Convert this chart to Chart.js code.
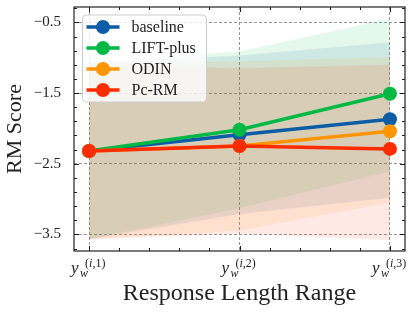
<!DOCTYPE html>
<html>
<head>
<meta charset="UTF-8">
<title>RM Score vs Response Length Range</title>
<script src="https://cdn.jsdelivr.net/npm/chart.js"></script>
<style>
  body { margin: 0; background: #fff; }
  canvas { display: block; }
</style>
</head>
<body>
<canvas id="chart" width="413" height="312"></canvas>
<script>
// x positions of the three length buckets and their superscripts
const xPos = [0, 1, 2];
const xLabelSup = ['(i,1)', '(i,2)', '(i,3)'];
const yTicks = [-3.5, -2.5, -1.5, -0.5];

const seriesNames = ['baseline', 'LIFT-plus', 'ODIN', 'Pc-RM'];
const seriesColors = ['#0C5DA5', '#00B945', '#FF9500', '#FF2C00'];

// mean RM score
const baselineMean = [-2.32, -2.09, -1.87];
const liftMean     = [-2.32, -2.02, -1.51];
const odinMean     = [-2.32, -2.25, -2.04];
const pcrmMean     = [-2.32, -2.25, -2.29];

// shaded band (upper / lower)
const baselineUpper = [-1.07, -0.97, -0.78];
const baselineLower = [-3.57, -3.21, -2.98];
const liftUpper     = [-1.05, -0.91, -0.45];
const liftLower     = [-3.57, -3.13, -2.61];
const odinUpper     = [-1.07, -1.05, -0.99];
const odinLower     = [-3.57, -3.45, -3.05];
const pcrmUpper     = [-1.10, -1.15, -1.10];
const pcrmLower     = [-3.57, -3.49, -3.58];

const means  = [baselineMean, liftMean, odinMean, pcrmMean];
const uppers = [baselineUpper, liftUpper, odinUpper, pcrmUpper];
const lowers = [baselineLower, liftLower, odinLower, pcrmLower];

const SERIF = '"Liberation Serif", "Times New Roman", serif';

function pts(arr) {
    return arr.map((v, i) => ({ x: xPos[i], y: v }));
}
function hexA(hex, a) {
    const n = parseInt(hex.slice(1), 16);
    return 'rgba(' + (n >> 16) + ',' + ((n >> 8) & 255) + ',' + (n & 255) + ',' + a + ')';
}

const datasets = [];
// bands first: upper fills down to its lower partner
seriesNames.forEach((name, i) => {
    const upIdx = datasets.length;
    datasets.push({
        label: name + ' upper',
        data: pts(uppers[i]),
        borderWidth: 0,
        pointRadius: 0,
        backgroundColor: hexA(seriesColors[i], 0.1),
        fill: upIdx + 1,
        order: 20 - i
    });
    datasets.push({
        label: name + ' lower',
        data: pts(lowers[i]),
        borderWidth: 0,
        pointRadius: 0,
        fill: false,
        order: 20 - i
    });
});
// mean lines, later series drawn on top
seriesNames.forEach((name, i) => {
    datasets.push({
        label: name,
        data: pts(means[i]),
        borderColor: seriesColors[i],
        backgroundColor: seriesColors[i],
        borderWidth: 3.5,
        pointRadius: 7,
        pointBorderWidth: 0,
        fill: false,
        order: 4 - i
    });
});

const decor = {
    id: 'decor',
    afterDatasetsDraw(chart) {
        const ctx = chart.ctx;
        const a = chart.chartArea;
        const xs = chart.scales.x, ys = chart.scales.y;
        ctx.save();
        ctx.strokeStyle = '#222';
        ctx.lineWidth = 1.2;
        ctx.strokeRect(a.left, a.top, a.right - a.left, a.bottom - a.top);
        ctx.lineWidth = 1;
        ctx.beginPath();
        // y ticks, major + minor, both sides, inward
        for (let k = -37; k <= -3; k += 2) {
            const v = k / 10;
            if (v < ys.min || v > ys.max) continue;
            const major = yTicks.some(t => Math.abs(t - v) < 1e-6);
            const len = major ? 5 : 3;
            const py = Math.round(ys.getPixelForValue(v)) + 0.5;
            ctx.moveTo(a.left, py); ctx.lineTo(a.left + len, py);
            ctx.moveTo(a.right, py); ctx.lineTo(a.right - len, py);
        }
        // x ticks
        for (let k = 0; k <= 10; k++) {
            const v = k / 5;
            const major = xPos.some(t => Math.abs(t - v) < 1e-6);
            const len = major ? 5 : 3;
            const px = Math.round(xs.getPixelForValue(v)) + 0.5;
            ctx.moveTo(px, a.bottom); ctx.lineTo(px, a.bottom - len);
            ctx.moveTo(px, a.top); ctx.lineTo(px, a.top + len);
        }
        ctx.stroke();
        ctx.restore();
    },
    afterDraw(chart) {
        const ctx = chart.ctx;
        const a = chart.chartArea;
        const xs = chart.scales.x;
        ctx.save();
        ctx.textBaseline = 'alphabetic';
        // x tick labels: y_w^{(i,k)}
        xPos.forEach((v, i) => {
            const px = xs.getPixelForValue(v);
            const base = a.bottom + 22;
            ctx.fillStyle = '#222';
            ctx.textAlign = 'left';
            ctx.font = 'italic 17px ' + SERIF;
            ctx.fillText('y', px - 18, base);
            ctx.font = 'italic 12px ' + SERIF;
            ctx.fillText('w', px - 9, base + 4);
            let sx = px - 4;
            for (const ch of xLabelSup[i]) {
                ctx.font = (ch === 'i' ? 'italic ' : '') + '12px ' + SERIF;
                ctx.fillText(ch, sx, base - 6.5);
                sx += ctx.measureText(ch).width;
            }
        });
        // legend
        const lx = a.left + 8.5, ly = a.top + 8;
        ctx.beginPath();
        ctx.roundRect(lx, ly, 124, 87, 4);
        ctx.fillStyle = 'rgba(255,255,255,0.8)';
        ctx.fill();
        ctx.strokeStyle = '#cccccc';
        ctx.lineWidth = 1;
        ctx.stroke();
        seriesNames.forEach((name, i) => {
            const cy = ly + 12 + i * 21;
            ctx.strokeStyle = seriesColors[i];
            ctx.fillStyle = seriesColors[i];
            ctx.lineWidth = 3.5;
            ctx.beginPath();
            ctx.moveTo(lx + 4, cy); ctx.lineTo(lx + 37, cy);
            ctx.stroke();
            ctx.beginPath();
            ctx.arc(lx + 20.5, cy, 7, 0, Math.PI * 2);
            ctx.fill();
            ctx.fillStyle = '#222';
            ctx.font = '16px ' + SERIF;
            ctx.textBaseline = 'middle';
            ctx.fillText(name, lx + 49, cy + 1);
        });
        ctx.restore();
    }
};

new Chart(document.getElementById('chart'), {
    type: 'line',
    data: { datasets: datasets },
    plugins: [decor],
    options: {
        responsive: false,
        animation: false,
        layout: { padding: { top: 5.5, right: 8, left: 2, bottom: 0 } },
        plugins: {
            legend: { display: false },
            tooltip: { enabled: false },
            filler: { drawTime: 'beforeDatasetsDraw' }
        },
        scales: {
            x: {
                type: 'linear',
                min: -0.1,
                max: 2.1,
                afterBuildTicks: s => { s.ticks = xPos.map(v => ({ value: v })); },
                afterFit: s => { s.height = 61; s.paddingLeft = 0; s.paddingRight = 0; },
                ticks: { display: false },
                grid: { color: '#8a8a8a', lineWidth: 0.9, drawTicks: false },
                border: { display: false, dash: [3, 2] },
                title: {
                    display: true,
                    text: 'Response Length Range',
                    color: '#222',
                    font: { family: SERIF, size: 24 },
                    padding: { top: 26, bottom: 4 }
                }
            },
            y: {
                min: -3.735,
                max: -0.282,
                afterBuildTicks: s => { s.ticks = yTicks.map(v => ({ value: v })); },
                afterFit: s => { s.width = 72; s.paddingTop = 0; s.paddingBottom = 0; },
                ticks: {
                    color: '#222',
                    font: { family: SERIF, size: 15 },
                    padding: 13,
                    callback: v => '\u2212' + Math.abs(v).toFixed(1)
                },
                grid: { color: '#8a8a8a', lineWidth: 0.9, drawTicks: false },
                border: { display: false, dash: [3, 2] },
                title: {
                    display: true,
                    text: 'RM Score',
                    color: '#222',
                    font: { family: SERIF, size: 22 },
                    padding: { top: 0, bottom: 6 }
                }
            }
        }
    }
});
</script>
</body>
</html>
